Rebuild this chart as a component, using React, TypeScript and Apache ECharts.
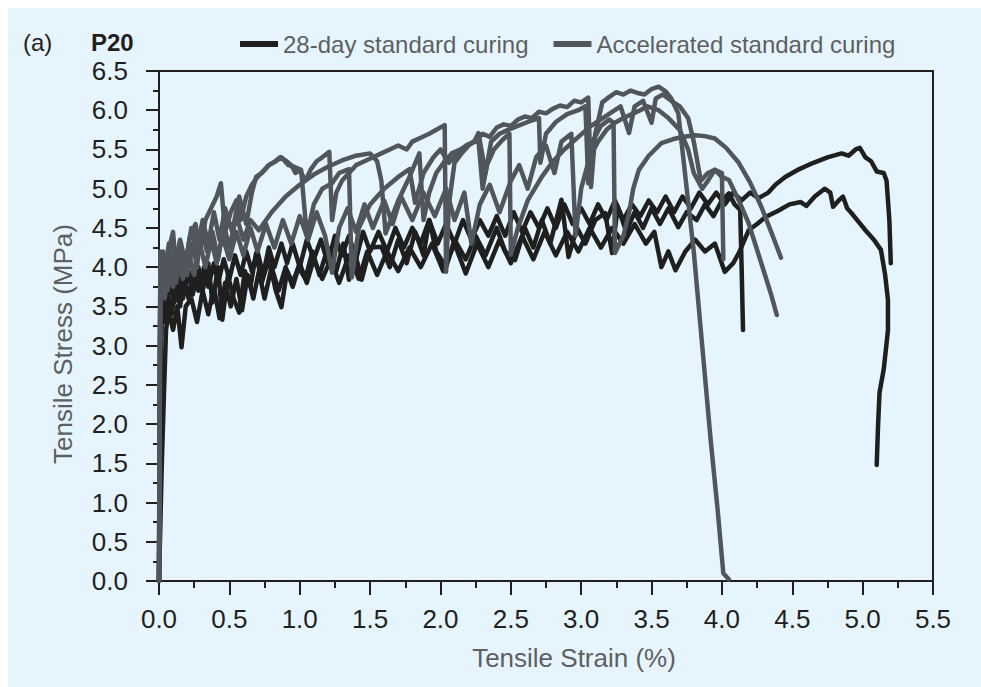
import React, { useEffect, useRef } from "react";
import * as echarts from "echarts";

const xTickLabels = ["0.0", "0.5", "1.0", "1.5", "2.0", "2.5", "3.0", "3.5", "4.0", "4.5", "5.0", "5.5"];
const yTickLabels = ["0.0", "0.5", "1.0", "1.5", "2.0", "2.5", "3.0", "3.5", "4.0", "4.5", "5.0", "5.5", "6.0", "6.5"];

const nameStd = "28-day standard curing";
const nameAcc = "Accelerated standard curing";

// 28-day standard curing specimens [strain %, stress MPa]
const std1: number[][] = [
  [0, 0], [0.01, 2.2], [0.02, 3.6], [0.04, 3.3], [0.06, 3.7], [0.09, 3.4], [0.12, 3.8], [0.15, 3.5], [0.18, 3.9], [0.21, 3.6],
  [0.25, 3.95], [0.28, 3.7], [0.32, 4.0], [0.35, 3.75], [0.39, 4.05], [0.42, 3.8], [0.46, 4.1], [0.5, 3.85], [0.54, 4.15], [0.58, 3.9],
  [0.62, 4.2], [0.66, 3.95], [0.7, 4.2], [0.74, 3.9], [0.78, 4.25], [0.82, 4.0], [0.87, 4.3], [0.91, 4.05], [0.95, 4.3], [1.0, 4.0],
  [1.05, 4.35], [1.1, 4.1], [1.15, 4.35], [1.2, 4.05], [1.25, 4.4], [1.3, 4.15], [1.35, 4.4], [1.4, 4.1], [1.45, 4.45], [1.5, 4.2],
  [1.56, 4.45], [1.62, 4.2], [1.68, 4.5], [1.74, 4.25], [1.8, 4.5], [1.86, 4.3], [1.92, 4.6], [1.98, 4.3], [2.04, 4.55], [2.1, 4.3],
  [2.16, 4.6], [2.22, 4.35], [2.28, 4.6], [2.34, 4.4], [2.4, 4.65], [2.46, 4.4], [2.52, 4.7], [2.58, 4.45], [2.64, 4.7], [2.7, 4.5],
  [2.76, 4.75], [2.82, 4.5], [2.88, 4.8], [2.94, 4.55], [3.0, 4.75], [3.06, 4.55], [3.12, 4.8], [3.18, 4.6], [3.24, 4.85], [3.3, 4.6],
  [3.36, 4.8], [3.42, 4.65], [3.48, 4.85], [3.54, 4.7], [3.6, 4.9], [3.66, 4.7], [3.72, 4.9], [3.78, 4.75], [3.84, 4.95], [3.9, 4.8],
  [3.96, 4.95], [4.02, 4.8], [4.08, 4.95], [4.14, 4.85], [4.2, 4.95], [4.26, 4.88], [4.33, 4.95], [4.38, 5.05], [4.45, 5.15], [4.55, 5.25],
  [4.65, 5.33], [4.75, 5.4], [4.85, 5.45], [4.9, 5.42], [4.95, 5.5], [4.98, 5.52], [5.02, 5.4], [5.06, 5.35], [5.1, 5.22], [5.15, 5.2],
  [5.17, 5.1], [5.19, 4.6], [5.2, 4.05],
];

const std2: number[][] = [
  [0, 0], [0.02, 1.5], [0.035, 2.37], [0.05, 3.2], [0.07, 3.45], [0.1, 3.2], [0.13, 3.5], [0.16, 2.98], [0.19, 3.5], [0.23, 3.6],
  [0.27, 3.3], [0.31, 3.7], [0.35, 3.4], [0.39, 3.75], [0.43, 3.35], [0.47, 3.8], [0.51, 3.5], [0.55, 3.85], [0.59, 3.45], [0.63, 3.9],
  [0.67, 3.6], [0.71, 3.95], [0.75, 3.6], [0.8, 4.0], [0.85, 3.7], [0.9, 4.0], [0.95, 3.75], [1.0, 4.05], [1.05, 3.8], [1.1, 4.1],
  [1.16, 3.85], [1.22, 4.1], [1.28, 3.8], [1.35, 4.15], [1.42, 3.85], [1.48, 4.2], [1.55, 3.9], [1.62, 4.2], [1.7, 3.95], [1.78, 4.25],
  [1.86, 4.0], [1.94, 4.3], [2.02, 3.95], [2.1, 4.3], [2.18, 3.92], [2.26, 4.3], [2.34, 4.0], [2.42, 4.35], [2.5, 4.05], [2.58, 4.4],
  [2.66, 4.1], [2.74, 4.45], [2.82, 4.15], [2.9, 4.45], [2.98, 4.2], [3.06, 4.5], [3.14, 4.25], [3.22, 4.5], [3.3, 4.3], [3.38, 4.55],
  [3.46, 4.3], [3.52, 4.45], [3.57, 4.0], [3.62, 4.2], [3.67, 3.96], [3.74, 4.2], [3.81, 4.35], [3.88, 4.2], [3.95, 4.3], [4.02, 3.94],
  [4.08, 4.05], [4.12, 4.18], [4.19, 4.47], [4.25, 4.55], [4.31, 4.64], [4.4, 4.72], [4.48, 4.8], [4.56, 4.83], [4.6, 4.78], [4.66, 4.9],
  [4.73, 5.0], [4.77, 4.95], [4.79, 4.77], [4.83, 4.85], [4.86, 4.9], [4.89, 4.75], [4.92, 4.69], [4.97, 4.58], [5.02, 4.47], [5.08, 4.35],
  [5.13, 4.22], [5.16, 3.9], [5.18, 3.58], [5.18, 3.2], [5.17, 3.03], [5.15, 2.7], [5.12, 2.4], [5.11, 2.0], [5.1, 1.48],
];

const std3: number[][] = [
  [0, 0], [0.01, 3.0], [0.03, 3.7], [0.05, 3.5], [0.08, 3.8], [0.11, 3.55], [0.14, 3.9], [0.17, 3.6], [0.21, 3.95], [0.24, 3.65],
  [0.28, 4.0], [0.31, 3.7], [0.35, 4.05], [0.38, 3.55], [0.42, 4.0], [0.45, 3.33], [0.49, 3.9], [0.53, 3.6], [0.57, 3.42], [0.61, 3.95],
  [0.65, 3.75], [0.69, 4.18], [0.73, 3.8], [0.78, 4.1], [0.83, 3.7], [0.87, 3.49], [0.91, 3.95], [0.95, 3.8], [0.99, 4.0], [1.04, 3.85],
  [1.09, 4.2], [1.14, 3.9], [1.2, 4.25], [1.26, 3.95], [1.31, 4.3], [1.35, 3.84], [1.39, 4.2], [1.44, 3.84], [1.5, 4.25], [1.58, 4.26],
  [1.64, 4.0], [1.7, 4.35], [1.76, 4.05], [1.82, 4.45], [1.88, 4.15], [1.92, 4.6], [1.97, 4.2], [2.04, 4.0], [2.1, 4.35], [2.18, 4.1],
  [2.25, 4.4], [2.32, 4.15], [2.4, 4.5], [2.46, 4.2], [2.53, 4.09], [2.6, 4.5], [2.66, 4.25], [2.72, 4.6], [2.78, 4.3], [2.86, 4.86],
  [2.91, 4.13], [2.97, 4.5], [3.03, 4.3], [3.1, 4.6], [3.17, 4.69], [3.22, 4.18], [3.26, 4.77], [3.32, 4.45], [3.38, 4.7], [3.44, 4.5],
  [3.5, 4.75], [3.56, 4.55], [3.62, 4.75], [3.69, 4.51], [3.75, 4.7], [3.82, 4.6], [3.88, 4.8], [3.94, 4.65], [4.0, 4.85], [4.05, 4.94],
  [4.09, 4.8], [4.13, 4.73], [4.14, 4.0], [4.15, 3.2],
];

// Accelerated standard curing specimens [strain %, stress MPa]
const acc1: number[][] = [
  [0, 0], [0.005, 2.5], [0.01, 4.0], [0.03, 4.2], [0.05, 3.85], [0.08, 4.3], [0.1, 4.45], [0.12, 4.0], [0.15, 4.2], [0.18, 3.95],
  [0.22, 4.4], [0.26, 4.55], [0.29, 4.2], [0.33, 4.6], [0.37, 4.75], [0.41, 4.9], [0.44, 5.07], [0.47, 4.45], [0.51, 4.7], [0.55, 4.85],
  [0.58, 4.6], [0.62, 4.9], [0.66, 5.05], [0.7, 5.15], [0.74, 5.22], [0.78, 5.3], [0.82, 5.34], [0.86, 5.4], [0.9, 5.36], [0.94, 5.3],
  [0.97, 5.2], [1.0, 5.24], [1.04, 5.1], [1.08, 5.25], [1.12, 5.35], [1.16, 5.4], [1.21, 5.47], [1.23, 4.6], [1.26, 4.95], [1.3, 5.1],
  [1.35, 5.2], [1.4, 5.3], [1.46, 5.35], [1.52, 5.4], [1.58, 5.45], [1.64, 5.5], [1.7, 5.55], [1.76, 5.5], [1.8, 5.6], [1.86, 5.65],
  [1.92, 5.7], [1.98, 5.76], [2.03, 5.81], [2.04, 3.94], [2.06, 4.8], [2.1, 5.33], [2.15, 5.45], [2.2, 5.55], [2.25, 5.62], [2.3, 5.7],
  [2.35, 5.66], [2.4, 5.78], [2.45, 5.82], [2.5, 5.8], [2.55, 5.88], [2.6, 5.92], [2.65, 5.9], [2.7, 5.98], [2.75, 5.96], [2.8, 6.02],
  [2.85, 6.06], [2.9, 6.04], [2.95, 6.12], [3.0, 6.1], [3.05, 6.16], [3.07, 5.02], [3.1, 5.7], [3.15, 6.1], [3.2, 6.17], [3.25, 6.23],
  [3.3, 6.2], [3.35, 6.25], [3.4, 6.22], [3.45, 6.2], [3.5, 6.27], [3.55, 6.3], [3.6, 6.24], [3.64, 6.15], [3.69, 5.96], [3.75, 5.0],
  [3.8, 4.2], [3.86, 3.0], [3.92, 1.8], [3.97, 0.9], [4.01, 0.1], [4.05, 0.02],
];

const acc2: number[][] = [
  [0, 0], [0.005, 2.0], [0.01, 3.6], [0.03, 4.0], [0.06, 3.7], [0.09, 4.1], [0.12, 3.8], [0.16, 4.2], [0.2, 3.9], [0.24, 4.3],
  [0.27, 4.0], [0.3, 4.51], [0.34, 4.2], [0.38, 4.45], [0.42, 4.1], [0.46, 4.55], [0.5, 4.25], [0.55, 4.65], [0.6, 4.35], [0.65, 4.6],
  [0.71, 4.47], [0.8, 4.7], [0.9, 4.9], [1.0, 5.05], [1.1, 5.18], [1.2, 5.28], [1.3, 5.36], [1.4, 5.42], [1.5, 5.45], [1.55, 5.35],
  [1.58, 5.1], [1.61, 4.43], [1.7, 4.85], [1.78, 5.15], [1.85, 5.45], [1.88, 4.6], [1.92, 4.95], [1.97, 5.2], [2.03, 5.35], [2.08, 5.45],
  [2.14, 5.5], [2.2, 5.56], [2.27, 5.62], [2.3, 5.0], [2.33, 5.3], [2.38, 5.5], [2.44, 5.62], [2.49, 5.7], [2.5, 4.16], [2.55, 4.5],
  [2.62, 4.85], [2.72, 5.15], [2.8, 5.35], [2.88, 5.5], [2.98, 5.66], [3.07, 5.8], [3.17, 5.92], [3.22, 5.98], [3.28, 6.05], [3.34, 5.71],
  [3.38, 6.05], [3.44, 6.12], [3.5, 5.84], [3.53, 6.15], [3.58, 6.2], [3.64, 6.12], [3.7, 6.05], [3.76, 5.9], [3.8, 5.6], [3.85, 5.1],
  [3.9, 5.2], [3.95, 5.24], [4.0, 5.15], [4.05, 5.11], [4.12, 4.85], [4.19, 4.56], [4.28, 4.05], [4.35, 3.65], [4.39, 3.39],
];

const acc3: number[][] = [
  [0, 0], [0.005, 2.5], [0.01, 4.2], [0.04, 3.9], [0.07, 4.3], [0.11, 4.0], [0.15, 4.35], [0.19, 4.05], [0.23, 4.5], [0.27, 4.2],
  [0.31, 4.6], [0.35, 4.3], [0.39, 4.7], [0.43, 4.35], [0.47, 4.75], [0.52, 4.45], [0.57, 4.9], [0.62, 4.55], [0.66, 4.95], [0.69, 5.15],
  [0.73, 5.2], [0.78, 5.3], [0.83, 5.35], [0.87, 5.4], [0.92, 5.3], [0.96, 5.28], [1.01, 5.24], [1.05, 4.4], [1.1, 4.8], [1.16, 5.0],
  [1.23, 5.07], [1.28, 5.2], [1.35, 5.25], [1.37, 3.87], [1.42, 4.5], [1.5, 4.8], [1.6, 5.0], [1.7, 5.15], [1.78, 5.25], [1.82, 4.82],
  [1.88, 5.2], [1.95, 5.4], [2.0, 5.5], [2.06, 5.33], [2.12, 5.45], [2.18, 5.55], [2.24, 5.6], [2.27, 5.71], [2.32, 5.2], [2.36, 5.6],
  [2.42, 5.7], [2.48, 5.75], [2.55, 5.8], [2.62, 5.85], [2.7, 5.9], [2.71, 5.33], [2.75, 5.7], [2.82, 5.85], [2.9, 5.95], [2.98, 6.0],
  [3.03, 6.05], [3.05, 5.07], [3.08, 5.6], [3.14, 5.8], [3.2, 5.88], [3.23, 5.84], [3.24, 4.18], [3.3, 4.4], [3.34, 4.69], [3.37, 5.0],
  [3.41, 5.24], [3.48, 5.42], [3.57, 5.58], [3.65, 5.63], [3.72, 5.66], [3.81, 5.68], [3.88, 5.67], [3.95, 5.64], [4.03, 5.52], [4.12, 5.33],
  [4.2, 5.08], [4.28, 4.77], [4.35, 4.45], [4.42, 4.12],
];

const acc4: number[][] = [
  [0, 0], [0.005, 2.8], [0.01, 3.9], [0.04, 3.6], [0.07, 4.0], [0.1, 3.75], [0.13, 4.1], [0.17, 3.85], [0.21, 4.2], [0.25, 3.9],
  [0.29, 4.3], [0.33, 4.0], [0.37, 4.35], [0.41, 4.05], [0.45, 4.4], [0.5, 4.1], [0.55, 4.45], [0.6, 4.15], [0.65, 4.5], [0.7, 4.2],
  [0.76, 4.55], [0.82, 4.25], [0.88, 4.6], [0.94, 4.3], [1.0, 4.65], [1.06, 4.35], [1.12, 4.7], [1.18, 4.4], [1.23, 3.93], [1.28, 4.5],
  [1.34, 4.75], [1.4, 4.45], [1.46, 4.8], [1.52, 4.5], [1.6, 4.85], [1.66, 4.55], [1.72, 4.9], [1.8, 4.6], [1.88, 4.95], [1.96, 4.65],
  [2.04, 5.0], [2.1, 4.6], [2.17, 4.95], [2.22, 4.3], [2.28, 4.8], [2.35, 5.05], [2.42, 4.7], [2.5, 5.1], [2.56, 5.3], [2.62, 5.0],
  [2.68, 5.4], [2.75, 5.55], [2.81, 5.2], [2.86, 5.6], [2.93, 5.7], [2.96, 4.4], [3.0, 5.0], [3.06, 5.4], [3.12, 5.6], [3.18, 5.75],
  [3.24, 5.84], [3.3, 5.9], [3.36, 5.95], [3.42, 6.0], [3.47, 6.05], [3.55, 6.0], [3.62, 5.9], [3.7, 5.75], [3.76, 5.5], [3.8, 5.2],
  [3.86, 5.0], [3.9, 5.1], [3.95, 5.24], [4.0, 5.2], [4.01, 4.1],
];

const stdSeries = [std1, std2, std3];
const accSeries = [acc1, acc2, acc3, acc4];

const BLACK = "#1f1f1f";
const GRAY = "#50565b";
const TEXT_DARK = "#231f20";
const TEXT_GRAY = "#5d5f62";
const FONT = "'Liberation Sans', Arial, sans-serif";

export default function App() {
  const ref = useRef<HTMLDivElement>(null);

  useEffect(() => {
    if (!ref.current) return;
    const chart = echarts.init(ref.current, null, { renderer: "svg" });

    const mkSeries = (data: number[][], name: string, color: string) => ({
      type: "line",
      name,
      data,
      showSymbol: false,
      symbol: "none",
      itemStyle: { color },
      lineStyle: { color, width: 4.5, cap: "round", join: "round" },
      emphasis: { disabled: true },
      z: 3,
    });

    const axisColor = TEXT_DARK;

    chart.setOption({
      animation: false,
      backgroundColor: "#e6f5fd",
      textStyle: { fontFamily: FONT },
      grid: {
        left: 151,
        top: 63,
        width: 774,
        height: 510,
        show: true,
        borderColor: axisColor,
        borderWidth: 2,
        backgroundColor: "transparent",
      },
      legend: {
        data: [nameStd, nameAcc],
        left: 232,
        top: 24,
        padding: 0,
        icon: "rect",
        itemWidth: 38,
        itemHeight: 6,
        itemGap: 25,
        textStyle: { fontSize: 24, color: TEXT_GRAY, fontFamily: FONT },
        selectedMode: false,
      },
      xAxis: {
        type: "value",
        min: 0,
        max: 5.5,
        interval: 0.5,
        axisLine: { show: true, onZero: false, lineStyle: { color: axisColor, width: 2 } },
        axisTick: { show: true, inside: false, length: 14, lineStyle: { color: axisColor, width: 2 } },
        minorTick: { show: true, splitNumber: 2, length: 7, lineStyle: { color: axisColor, width: 2 } },
        splitLine: { show: false },
        minorSplitLine: { show: false },
        axisLabel: {
          margin: 25,
          fontSize: 26,
          color: TEXT_DARK,
          fontFamily: FONT,
          formatter: (v: number) => xTickLabels[Math.round(v / 0.5)] ?? "",
        },
      },
      yAxis: {
        type: "value",
        min: 0,
        max: 6.5,
        interval: 0.5,
        axisLine: { show: true, onZero: false, lineStyle: { color: axisColor, width: 2 } },
        axisTick: { show: true, inside: false, length: 13, lineStyle: { color: axisColor, width: 2 } },
        minorTick: { show: true, splitNumber: 2, length: 6, lineStyle: { color: axisColor, width: 2 } },
        splitLine: { show: false },
        minorSplitLine: { show: false },
        axisLabel: {
          margin: 31,
          fontSize: 26,
          lineHeight: 26,
          color: TEXT_DARK,
          fontFamily: FONT,
          formatter: (v: number) => yTickLabels[Math.round(v / 0.5)] ?? "",
        },
      },
      graphic: [
        {
          type: "text",
          left: 15,
          top: 22,
          style: { text: "(a)", fill: TEXT_DARK, font: `24px ${FONT}` },
        },
        {
          type: "text",
          left: 83,
          top: 22,
          style: { text: "P20", fill: TEXT_DARK, font: `bold 24px ${FONT}` },
        },
        {
          type: "text",
          x: 566,
          y: 650,
          style: { text: "Tensile Strain (%)", fill: TEXT_GRAY, font: `26px ${FONT}`, align: "center", verticalAlign: "middle" },
        },
        {
          type: "text",
          x: 55,
          y: 336,
          rotation: Math.PI / 2,
          style: { text: "Tensile Stress (MPa)", fill: TEXT_GRAY, font: `26px ${FONT}`, align: "center", verticalAlign: "middle" },
        },
      ],
      series: [
        ...stdSeries.map((d) => mkSeries(d, nameStd, BLACK)),
        ...accSeries.map((d) => mkSeries(d, nameAcc, GRAY)),
      ],
    });

    return () => chart.dispose();
  }, []);

  return (
    <div
      ref={ref}
      style={{ position: "fixed", left: 8, top: 8, width: 973, height: 679 }}
    />
  );
}
